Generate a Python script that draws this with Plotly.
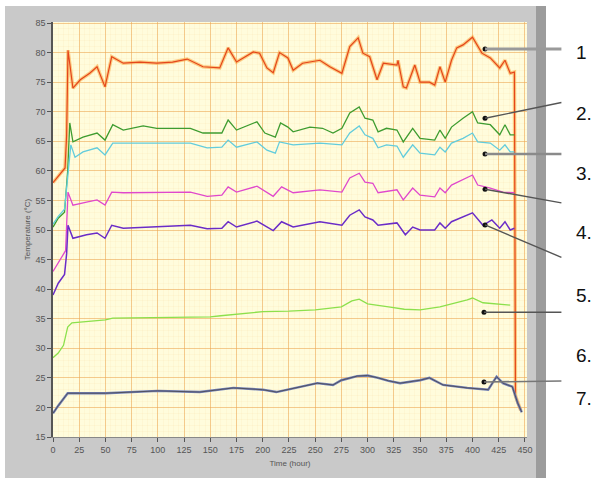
import plotly.graph_objects as go

# ---- data (hours, temperature in °C) ----
t1 = [0, 7, 11.5, 13, 14.3, 19, 26, 35, 42, 49.6, 56, 67, 83, 99, 114, 128, 134, 143, 159, 167, 175, 191, 197, 204, 210,
      216, 224, 229, 238, 254.5, 264, 275.5, 283, 291, 295.5, 302, 309, 315, 328, 329, 334, 337, 345, 350, 359, 364, 369,
      374, 380, 385, 391, 400, 409, 417, 426, 431, 436, 440, 441, 446]
v1 = [58.0, 59.6, 60.5, 66, 80.4, 74.0, 75.4, 76.5, 77.6, 74.2, 79.3, 78.2, 78.4, 78.2, 78.4, 78.9, 78.4, 77.6, 77.4, 80.8,
      78.4, 80.1, 79.9, 77.4, 76.6, 80.0, 79.1, 77.0, 78.2, 78.7, 77.6, 76.5, 81.0, 82.5, 79.9, 79.3, 75.4, 78.2, 77.9,
      78.7, 74.2, 74.0, 77.9, 75.0, 75.0, 74.5, 77.6, 75.0, 78.7, 80.8, 81.3, 82.6, 79.9, 79.1, 77.4, 78.7, 76.5, 76.7,
      22.0, 19.5]

t2 = [0, 5, 11, 14, 16, 19, 28.6, 42, 49.6, 57, 67, 86, 99, 131, 143, 161, 167, 175, 194.5, 202, 212, 217, 224, 229, 245,
      257, 267, 275.5, 283, 292, 297.5, 305, 310, 318, 328, 334, 343, 350, 364, 369, 374, 380, 391, 400, 405, 417, 426,
      431, 436, 440]
v2 = [50.5, 52.0, 53.0, 60.0, 68.1, 64.9, 65.7, 66.4, 65.2, 67.8, 66.9, 67.6, 67.2, 67.2, 66.4, 66.4, 68.6, 66.9, 68.3,
      66.4, 65.7, 68.1, 67.4, 66.6, 67.4, 67.2, 66.4, 67.2, 69.8, 70.8, 68.9, 68.6, 66.6, 67.2, 66.9, 64.9, 67.2, 65.5,
      65.2, 66.9, 65.5, 67.4, 68.9, 70.0, 68.1, 67.8, 66.1, 67.8, 66.1, 66.1]

t3 = [0, 5, 11, 15, 17, 21, 28.6, 42, 49.6, 57, 83, 131, 147, 161, 167, 175, 194.5, 204, 212, 216, 229, 254.5, 275.5,
      283, 292, 297.5, 305, 310, 318, 328, 334, 343, 350, 364, 369, 374, 380, 391, 400, 405, 417, 426, 431, 436, 440]
v3 = [51.0, 52.3, 53.5, 60.0, 64.4, 62.3, 63.2, 63.9, 62.7, 64.7, 64.7, 64.7, 63.9, 64.0, 65.2, 64.0, 64.9, 63.5, 63.0,
      64.9, 64.4, 64.7, 64.4, 66.4, 67.6, 66.1, 65.5, 63.9, 64.4, 64.2, 62.3, 64.4, 63.0, 62.7, 64.0, 63.2, 64.7, 65.5,
      66.4, 64.9, 64.7, 63.5, 64.4, 63.2, 63.2]

t4 = [0, 7, 12, 14.3, 19, 32, 42, 49.6, 56, 67, 99, 131, 147, 161, 167, 175, 194.5, 204, 210, 218, 229, 254.5, 275.5,
      283, 292, 297.5, 305, 310, 328, 334, 343, 350, 364, 369, 374, 380, 391, 400, 405, 417, 429, 440]
v4 = [43.0, 45.0, 46.5, 56.4, 54.2, 54.7, 55.1, 54.2, 56.4, 56.3, 56.3, 56.4, 55.7, 55.9, 57.3, 56.4, 57.4, 56.3, 55.7,
      57.3, 56.3, 56.8, 56.4, 58.8, 59.6, 58.1, 57.9, 56.3, 56.8, 55.1, 57.1, 55.9, 55.6, 57.1, 56.3, 57.6, 58.5, 59.3,
      57.6, 57.1, 56.4, 56.3]

t5 = [0, 5, 11, 13, 14.3, 19, 32, 42, 49.6, 56, 67, 99, 131, 147, 161, 167, 175, 194.5, 204, 210, 218, 229, 254.5,
      275.5, 283, 292, 297.5, 305, 310, 328, 336, 343, 350, 364, 369, 374, 380, 391, 400, 410, 418.5, 426, 431, 436, 440]
v5 = [39.0, 41.0, 42.5, 46.0, 50.8, 48.6, 49.2, 49.5, 48.6, 50.8, 50.3, 50.5, 50.8, 50.2, 50.3, 51.4, 50.5, 51.5, 50.5,
      49.9, 51.4, 50.5, 51.4, 50.8, 52.5, 53.4, 52.2, 51.7, 50.8, 51.2, 49.2, 50.5, 50.0, 50.0, 51.2, 50.3, 51.4, 52.2,
      52.9, 50.8, 51.7, 50.3, 51.4, 50.0, 50.3]

t6 = [0, 5, 10, 14, 18, 50, 57, 100, 150, 160, 175, 200, 225, 250, 275, 285, 292, 300, 320, 335, 350, 369, 395, 400,
      410, 425, 436]
v6 = [28.4, 29.2, 30.5, 33.6, 34.3, 34.8, 35.1, 35.2, 35.3, 35.5, 35.8, 36.2, 36.3, 36.5, 37.0, 38.0, 38.3, 37.5, 37.0,
      36.6, 36.5, 37.0, 38.2, 38.5, 37.7, 37.5, 37.3]

t7 = [0, 5, 14, 50, 100, 140, 172, 200, 213, 235, 252, 267, 275, 290, 300, 310, 320, 331, 350, 359, 372, 395, 415, 423,
      429, 438, 443, 447]
v7 = [19.0, 20.3, 22.4, 22.4, 22.8, 22.6, 23.3, 23.0, 22.6, 23.5, 24.1, 23.8, 24.6, 25.3, 25.4, 25.0, 24.5, 24.1, 24.6,
      25.0, 23.8, 23.3, 23.0, 25.2, 24.1, 23.5, 20.8, 19.2]

labels = ["1", "2.", "3.", "4.", "5.", "6.", "7."]
label_py = [52, 113, 173, 232, 295, 355, 398]          # label vertical pixel positions
pointer_x = [412, 412, 412, 412, 412, 411, 411]          # hour where each pointer touches
pointer_y = [80.6, 68.9, 62.85, 56.9, 50.85, 36.1, 24.3]  # temperature at the pointer
pointer_ay = [0, -16, 0, 14, 33, 0, -1]                 # tail offset (px)

# ---- layout geometry ----
W, H = 592, 485
L, R, T, B = 53, 527, 22, 437


def px(p):
    return (p - L) / (R - L)


def py(p):
    return (B - p) / (B - T)


fig = go.Figure()

# orange band + line
fig.add_trace(go.Scatter(x=t1, y=v1, mode="lines", line=dict(color="rgba(250,170,70,0.6)", width=3.5),
                         hoverinfo="skip"))
fig.add_trace(go.Scatter(x=t1, y=v1, mode="lines", line=dict(color="#E4461C", width=1.2)))
fig.add_trace(go.Scatter(x=t2, y=v2, mode="lines", line=dict(color="#3E9C30", width=1.3)))
fig.add_trace(go.Scatter(x=t3, y=v3, mode="lines", line=dict(color="#62CCDC", width=1.3)))
fig.add_trace(go.Scatter(x=t4, y=v4, mode="lines", line=dict(color="#E048CC", width=1.3)))
fig.add_trace(go.Scatter(x=t5, y=v5, mode="lines", line=dict(color="#6A2CC8", width=1.5)))
fig.add_trace(go.Scatter(x=t6, y=v6, mode="lines", line=dict(color="#8CE04C", width=1.3)))
fig.add_trace(go.Scatter(x=t7, y=v7, mode="lines", line=dict(color="#7482B8", width=2.4)))
fig.add_trace(go.Scatter(x=t7, y=v7, mode="lines", line=dict(color="#505060", width=1.0)))

# pointer dots
fig.add_trace(go.Scatter(x=pointer_x, y=pointer_y, mode="markers", marker=dict(color="#111", size=5),
                         cliponaxis=False))

shapes = [
    dict(type="rect", xref="paper", yref="paper", x0=px(5), x1=px(538), y0=py(478), y1=py(6),
         fillcolor="#C9C9C9", line=dict(width=0), layer="below"),
    dict(type="rect", xref="paper", yref="paper", x0=px(536), x1=px(546), y0=py(478), y1=py(6),
         fillcolor="#9C9C9C", line=dict(width=0), layer="below"),
    dict(type="rect", xref="paper", yref="paper", x0=0, x1=1, y0=0, y1=1,
         fillcolor="#FFFCDC", line=dict(width=0), layer="below"),
]

annotations = []
line_styles = [("#9A9A9A", 3), ("#555", 1.4), ("#8A8A8A", 2.4), ("#555", 1.4), ("#555", 1.4), ("#555", 1.6),
               ("#777", 1.6)]
for i in range(7):
    col, wd = line_styles[i]
    annotations.append(dict(x=pointer_x[i], y=pointer_y[i], xref="x", yref="y", text="", showarrow=True,
                            arrowhead=0, ax=563 - (L + pointer_x[i] * (525 - L) / 450), ay=pointer_ay[i],
                            arrowcolor=col, arrowwidth=wd, standoff=0, startstandoff=0))
    annotations.append(dict(x=px(574), y=py(label_py[i]), xref="paper", yref="paper", text=labels[i],
                            showarrow=False, xanchor="left", yanchor="middle",
                            font=dict(family="Liberation Sans, Arial", size=19, color="#111")))

x_tick_vals = list(range(0, 451, 25))
y_tick_vals = list(range(15, 86, 5))

fig.update_layout(
    width=W, height=H, margin=dict(l=L, r=W - R, t=T, b=H - B),
    paper_bgcolor="white", plot_bgcolor="#FFFCDC", showlegend=False,
    shapes=shapes, annotations=annotations,
    font=dict(family="Liberation Sans Narrow, Liberation Sans, Arial", size=9, color="#555"),
)
fig.update_xaxes(range=[0, 452], tickvals=x_tick_vals, ticks="outside", ticklen=4, tickcolor="#555",
                 showline=True, linecolor="#888", linewidth=1, zeroline=False,
                 showgrid=True, gridcolor="rgba(235,165,80,0.55)", gridwidth=1,
                 minor=dict(dtick=5, showgrid=True, gridcolor="rgba(240,190,110,0.08)"),
                 title=dict(text="Time (hour)", font=dict(size=8, color="#555"), standoff=6),
                 tickfont=dict(size=9, color="#555"))
fig.update_yaxes(range=[15, 85.17], tickvals=y_tick_vals, ticks="outside", ticklen=4, tickcolor="#555",
                 showline=True, linecolor="#555", linewidth=1.5, zeroline=False,
                 showgrid=True, gridcolor="rgba(235,165,80,0.55)", gridwidth=1,
                 minor=dict(dtick=1, showgrid=True, gridcolor="rgba(240,190,110,0.08)"),
                 title=dict(text="Temperature (°C)", font=dict(size=8, color="#555"), standoff=4),
                 tickfont=dict(size=9, color="#555"))

fig.write_html("out.html", config={"displayModeBar": False},
               post_script="document.body.style.margin='0';")
